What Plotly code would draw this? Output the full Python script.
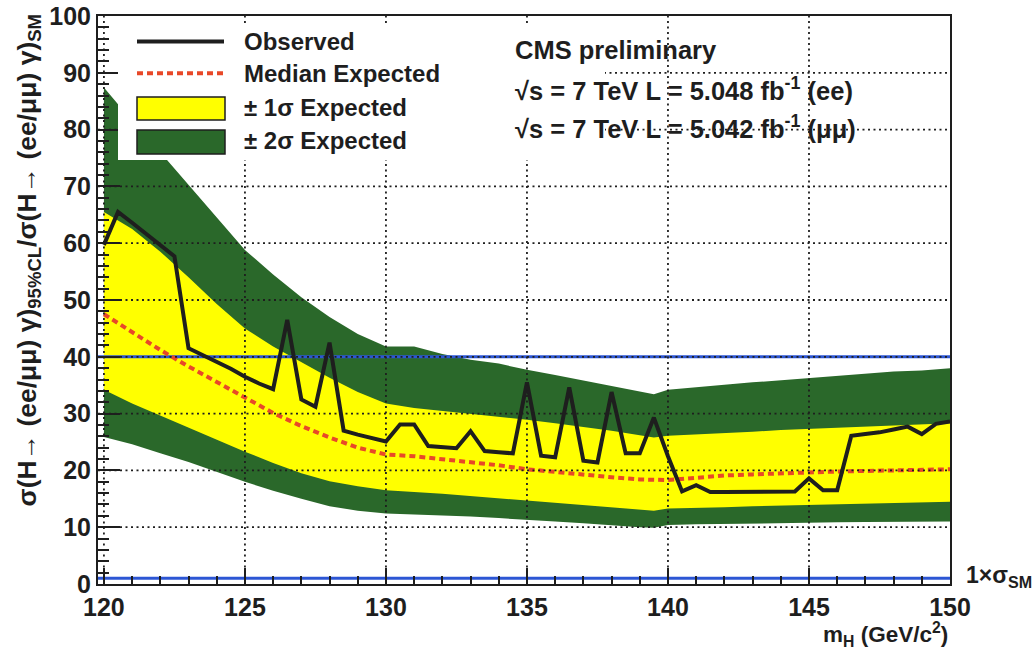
import plotly.graph_objects as go

# Higgs mass points (GeV/c^2)
mass_obs = [120.0, 120.5, 121.0, 121.5, 122.0, 122.5, 123.0, 123.5, 124.0, 124.5,
            125.0, 125.5, 126.0, 126.5, 127.0, 127.5, 128.0, 128.5, 129.0, 129.5,
            130.0, 130.5, 131.0, 131.5, 132.0, 132.5, 133.0, 133.5, 134.0, 134.5,
            135.0, 135.5, 136.0, 136.5, 137.0, 137.5, 138.0, 138.5, 139.0, 139.5,
            140.0, 140.5, 141.0, 141.5, 142.0, 142.5, 143.0, 143.5, 144.0, 144.5,
            145.0, 145.5, 146.0, 146.5, 147.0, 147.5, 148.0, 148.5, 149.0, 149.5,
            150.0]

# Observed 95% CL limit / SM
observed = [59.7, 65.5, 63.6, 61.7, 59.8, 57.7, 41.5, 40.3, 39.0, 37.9,
            36.5, 35.3, 34.3, 46.5, 32.5, 31.2, 42.5, 27.0, 26.3, 25.7,
            25.1, 28.1, 28.1, 24.3, 24.1, 23.9, 26.9, 23.4, 23.2, 23.0,
            35.5, 22.6, 22.3, 34.6, 21.7, 21.4, 33.8, 23.0, 23.0, 29.3,
            22.5, 16.3, 17.4, 16.2, 16.2, 16.2, 16.2, 16.3, 16.3, 16.3,
            18.6, 16.5, 16.5, 26.1, 26.4, 26.7, 27.2, 27.7, 26.4, 28.2,
            28.6]

# Expected limit and bands
mass_exp = [120, 121, 122, 123, 124, 125, 126, 127, 128, 129, 130, 131, 132,
            133, 134, 135, 136, 137, 138, 139, 139.5, 140, 141, 142, 143, 144,
            145, 146, 147, 148, 149, 150]
median_exp = [47.5, 44.3, 41.2, 38.3, 35.5, 32.7, 30.1, 27.8, 25.8, 24.0, 22.8,
              22.5, 22.0, 21.5, 20.9, 20.2, 19.7, 19.2, 18.8, 18.4, 18.3, 18.3,
              18.7, 19.1, 19.3, 19.5, 19.7, 19.8, 19.9, 20.0, 20.1, 20.2]
plus1 = [65.5, 62.5, 58.5, 54.0, 49.3, 45.0, 41.8, 39.0, 36.3, 33.8, 31.8, 31.0,
         30.5, 30.0, 29.5, 28.9, 28.3, 27.7, 27.0, 26.2, 25.8, 26.1, 26.3, 26.6,
         26.8, 27.1, 27.3, 27.5, 27.7, 27.9, 28.1, 28.3]
minus1 = [34.2, 31.8, 29.6, 27.5, 25.4, 23.3, 21.3, 19.5, 18.1, 17.2, 16.5, 16.2,
          15.9, 15.6, 15.2, 14.8, 14.4, 14.0, 13.6, 13.1, 12.9, 13.3, 13.4, 13.5,
          13.7, 13.8, 13.9, 14.0, 14.1, 14.3, 14.4, 14.5]
plus2 = [87.4, 81.5, 76.0, 70.3, 64.5, 58.8, 54.5, 50.5, 47.0, 44.0, 41.8, 41.8,
         40.5, 39.5, 38.8, 37.7, 36.8, 35.8, 34.8, 33.8, 33.4, 34.2, 34.7, 35.1,
         35.5, 35.9, 36.3, 36.6, 37.0, 37.4, 37.6, 38.0]
minus2 = [25.9, 24.6, 23.0, 21.5, 19.8, 18.0, 16.4, 15.0, 13.7, 12.9, 12.4, 12.3,
          12.1, 11.9, 11.6, 11.25, 11.0, 10.7, 10.4, 10.0, 9.9, 10.4, 10.5, 10.6,
          10.7, 10.75, 10.8, 10.85, 10.9, 10.95, 11.0, 11.0]

# Reference levels drawn as horizontal lines
ref_levels = [40, 1]

x_ticks = [120, 125, 130, 135, 140, 145, 150]
y_ticks = [0, 10, 20, 30, 40, 50, 60, 70, 80, 90, 100]
x_range = [119.79, 150]
y_range = [0, 100]

GREEN = "rgb(42,104,42)"
YELLOW = "rgb(255,255,0)"
RED = "rgb(232,72,40)"
BLUE = "rgb(44,86,212)"
INK = "#1e1e1e"
FONT = "Liberation Sans, Arial, Helvetica, sans-serif"

fig = go.Figure()

# +-2 sigma band
fig.add_trace(go.Scatter(
    x=mass_exp + mass_exp[::-1], y=plus2 + minus2[::-1],
    fill="toself", fillcolor=GREEN, line=dict(width=0), mode="lines",
    hoverinfo="skip", showlegend=False))
# +-1 sigma band
fig.add_trace(go.Scatter(
    x=mass_exp + mass_exp[::-1], y=plus1 + minus1[::-1],
    fill="toself", fillcolor=YELLOW, line=dict(width=0), mode="lines",
    hoverinfo="skip", showlegend=False))
# reference lines
for lvl in ref_levels:
    fig.add_trace(go.Scatter(
        x=x_range, y=[lvl, lvl], mode="lines",
        line=dict(color=BLUE, width=3), showlegend=False, hoverinfo="skip"))
# median expected
fig.add_trace(go.Scatter(
    x=mass_exp, y=median_exp, mode="lines",
    line=dict(color=RED, width=4, dash="6px,4px"), showlegend=False))
# observed
fig.add_trace(go.Scatter(
    x=mass_obs, y=observed, mode="lines",
    line=dict(color=INK, width=4), showlegend=False))

shapes = []
# dotted grid drawn over the bands
for xv in x_ticks[:-1]:
    shapes.append(dict(type="line", xref="x", yref="paper", x0=xv, x1=xv, y0=0, y1=1,
                       layer="above", line=dict(color=INK, width=1.8, dash="2px,3.5px")))
for yv in y_ticks[1:-1]:
    shapes.append(dict(type="line", xref="paper", yref="y", x0=0, x1=1, y0=yv, y1=yv,
                       layer="above", line=dict(color=INK, width=1.8, dash="2px,3.5px")))


def px_x(p):
    return (p - 98) / 852


def px_y(p):
    return (584 - p) / 568


# legend background
shapes.append(dict(type="rect", xref="paper", yref="paper",
                   x0=px_x(118), x1=px_x(605), y0=px_y(160), y1=px_y(26),
                   layer="above", fillcolor="white", line=dict(width=0)))
# legend swatches
shapes.append(dict(type="line", xref="paper", yref="paper", x0=px_x(137), x1=px_x(224),
                   y0=px_y(41.5), y1=px_y(41.5), layer="above",
                   line=dict(color=INK, width=4)))
shapes.append(dict(type="line", xref="paper", yref="paper", x0=px_x(137), x1=px_x(224),
                   y0=px_y(73.3), y1=px_y(73.3), layer="above",
                   line=dict(color=RED, width=4, dash="6px,4px")))
shapes.append(dict(type="rect", xref="paper", yref="paper", x0=px_x(137), x1=px_x(225),
                   y0=px_y(120), y1=px_y(97), layer="above", fillcolor=YELLOW,
                   line=dict(color=INK, width=1.5)))
shapes.append(dict(type="rect", xref="paper", yref="paper", x0=px_x(137), x1=px_x(225),
                   y0=px_y(154), y1=px_y(130), layer="above", fillcolor=GREEN,
                   line=dict(color=INK, width=1.5)))

bold = dict(family=FONT, size=24, color=INK, weight="bold")
annotations = []
for txt, yc in [("Observed", 41.7), ("Median Expected", 73.3),
                ("± 1σ Expected", 107.7), ("± 2σ Expected", 140)]:
    annotations.append(dict(text=txt, xref="paper", yref="paper", x=px_x(242), y=px_y(yc),
                            xanchor="left", yanchor="middle", showarrow=False, font=bold))

cms = dict(family=FONT, size=25.5, color=INK, weight="bold")
for txt, yc in [("CMS preliminary", 49.7),
                ("√s = 7 TeV L = 5.048 fb<sup>-1</sup> (ee)", 89),
                ("√s = 7 TeV L = 5.042 fb<sup>-1</sup> (μμ)", 126.8)]:
    annotations.append(dict(text=txt, xref="paper", yref="paper", x=px_x(513), y=px_y(yc),
                            xanchor="left", yanchor="middle", showarrow=False, font=cms))

# axis titles
annotations.append(dict(
    text="σ(H→ (ee/μμ) γ)<sub>95%CL</sub>/σ(H→ (ee/μμ) γ)<sub>SM</sub>",
    xref="paper", yref="paper", x=px_x(28), y=px_y(12), xanchor="center", yanchor="top",
    textangle=-90, showarrow=False, font=dict(family=FONT, size=26.5, color=INK, weight="bold")))
annotations.append(dict(
    text="m<sub>H</sub> (GeV/c<sup>2</sup>)", xref="paper", yref="paper",
    x=1.0, y=px_y(634.5), xanchor="right", yanchor="middle", showarrow=False,
    font=dict(family=FONT, size=22.5, color=INK, weight="bold")))
annotations.append(dict(
    text="1×σ<sub>SM</sub>", xref="paper", yref="paper", x=px_x(964), y=px_y(576),
    xanchor="left", yanchor="middle", showarrow=False,
    font=dict(family=FONT, size=23, color=INK, weight="bold")))

tickfont = dict(family=FONT, size=25, color=INK, weight="bold")
fig.update_layout(
    width=1036, height=651,
    margin=dict(l=98, r=86, t=16, b=67, autoexpand=False),
    paper_bgcolor="white", plot_bgcolor="white",
    shapes=shapes, annotations=annotations, showlegend=False,
    xaxis=dict(range=x_range, tickvals=x_ticks, ticks="inside", ticklen=16, tickwidth=2,
               tickcolor=INK, showgrid=False, zeroline=False, showline=True, mirror=True,
               linewidth=2, linecolor=INK, layer="above traces", tickfont=tickfont,
               automargin=False,
               minor=dict(tick0=120, dtick=1, ticks="inside", ticklen=8, tickwidth=1.5,
                          tickcolor=INK, showgrid=False)),
    yaxis=dict(range=y_range, tickvals=y_ticks, ticks="inside", ticklen=22, tickwidth=2,
               tickcolor=INK, showgrid=False, zeroline=False, showline=True, mirror=True,
               linewidth=2, linecolor=INK, layer="above traces", tickfont=tickfont,
               automargin=False,
               minor=dict(tick0=0, dtick=2, ticks="inside", ticklen=11, tickwidth=1.5,
                          tickcolor=INK, showgrid=False)),
)

fig.write_html("out.html")
